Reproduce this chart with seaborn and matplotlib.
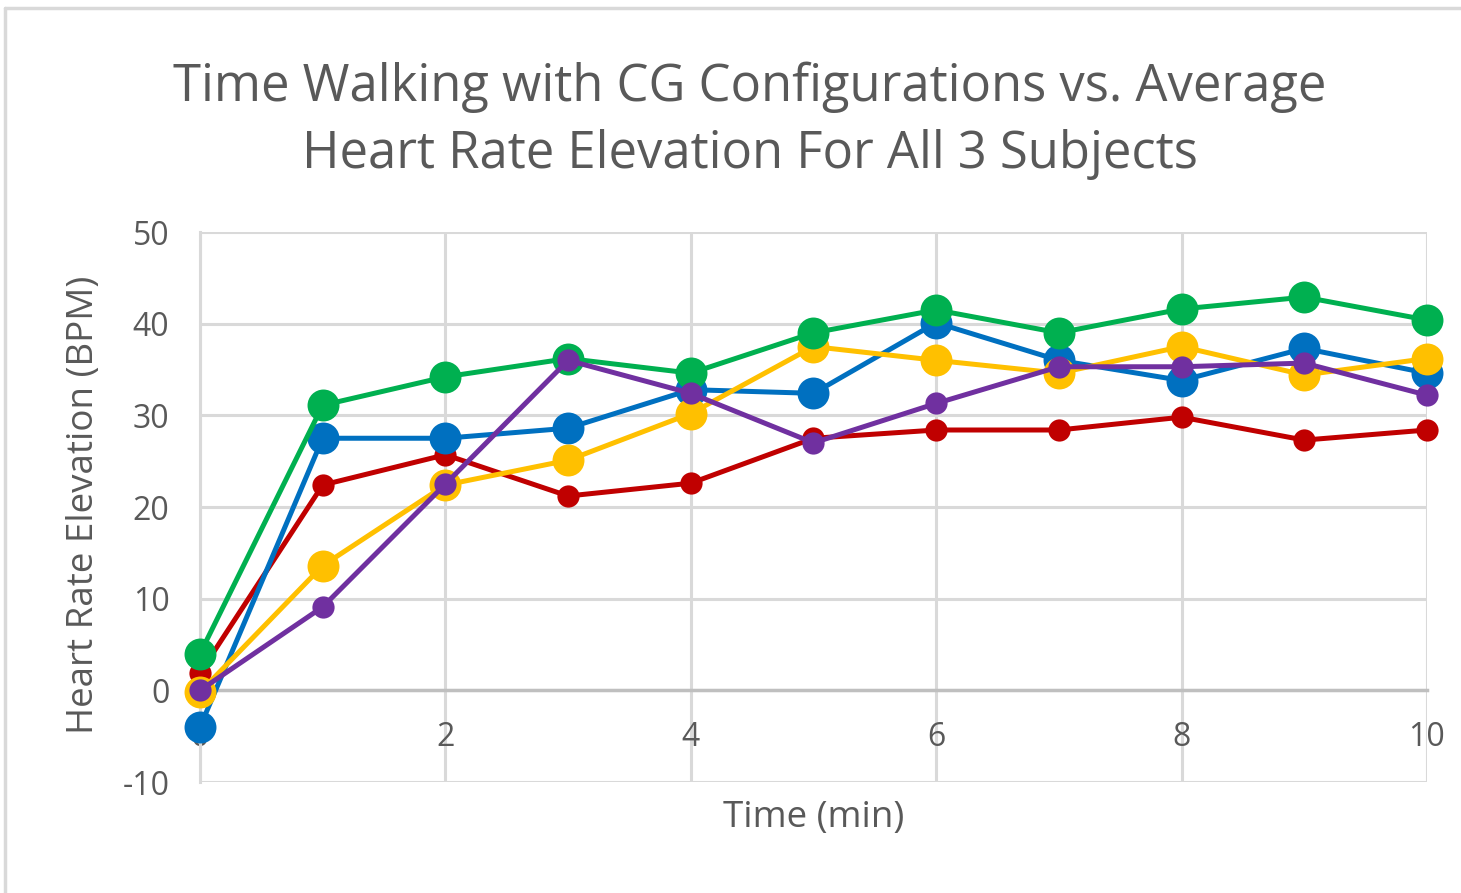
import numpy as np
import pandas as pd
import seaborn as sns
import matplotlib.pyplot as plt
from matplotlib.lines import Line2D

# data
time_min = [0, 1, 2, 3, 4, 5, 6, 7, 8, 9, 10]
red_vals = [1.9, 22.4, 25.7, 21.2, 22.6, 27.5, 28.4, 28.4, 29.8, 27.3, 28.4]
blue_vals = [-4.0, 27.5, 27.5, 28.6, 32.8, 32.4, 40.1, 36.0, 33.8, 37.3, 34.6]
yellow_vals = [-0.2, 13.6, 22.4, 25.1, 30.2, 37.5, 36.0, 34.6, 37.5, 34.4, 36.2]
green_vals = [4.0, 31.1, 34.2, 36.2, 34.6, 39.0, 41.5, 39.0, 41.6, 42.9, 40.4]
purple_vals = [0.0, 9.1, 22.5, 36.0, 32.4, 27.0, 31.3, 35.3, 35.3, 35.7, 32.2]

series = {
    "red": red_vals,
    "blue": blue_vals,
    "yellow": yellow_vals,
    "green": green_vals,
    "purple": purple_vals,
}
colors = {"red": "#C00000", "blue": "#0070C0", "yellow": "#FFC000",
          "green": "#00B050", "purple": "#7030A0"}
msizes = {"red": 16, "blue": 23, "yellow": 23, "green": 23, "purple": 16}

sns.set_style("white")
plt.rcParams['font.family'] = ['Open Sans', 'DejaVu Sans']
plt.rcParams['axes.unicode_minus'] = False

fig = plt.figure(figsize=(14.61, 8.93), dpi=100)
ax = fig.add_axes([0.1369, 0.1243, 0.8398, 0.6159])

for i, (name, vals) in enumerate(series.items()):
    d = pd.DataFrame({"time": time_min, "hr": vals})
    sns.lineplot(data=d, x="time", y="hr", ax=ax, color=colors[name],
                 linewidth=3.6, marker="o", markersize=msizes[name],
                 markeredgewidth=0, zorder=3 + i, clip_on=False)

ax.set_xlim(0, 10)
ax.set_ylim(-10, 50)
ax.set_xticks([0, 2, 4, 6, 8, 10])
ax.set_yticks([-10, 0, 10, 20, 30, 40, 50])
ax.grid(True, color="#D9D9D9", linewidth=2.2)
ax.set_axisbelow(True)

for s in ["top", "right"]:
    ax.spines[s].set_visible(False)
ax.spines["left"].set_color("#D9D9D9")
ax.spines["left"].set_linewidth(2.2)
ax.spines["bottom"].set_position(("data", 0))
ax.spines["bottom"].set_color("#BFBFBF")
ax.spines["bottom"].set_linewidth(2.5)

ax.tick_params(axis="both", length=0, labelsize=23, labelcolor="#595959")
ax.tick_params(axis="x", pad=22)
ax.tick_params(axis="y", pad=22)

ax.set_xlabel("Time (min)", fontsize=26.5, color="#595959")
ax.set_ylabel("Heart Rate Elevation (BPM)", fontsize=26.5, color="#595959")
ax.xaxis.set_label_coords(0.5, -0.032)
ax.yaxis.set_label_coords(-0.08, 0.504)

fig.text(0.513, 0.865,
         "Time Walking with CG Configurations vs. Average\nHeart Rate Elevation For All 3 Subjects",
         ha="center", va="center", fontsize=36.5, color="#595959", linespacing=1.42)

# chart frame
fig.add_artist(Line2D([0.0035, 1.0], [0.991, 0.991], color="#D9D9D9", linewidth=2.5))
fig.add_artist(Line2D([0.0035, 0.0035], [0.0, 0.991], color="#D9D9D9", linewidth=2.5))

fig.savefig("out.png", dpi=100)
